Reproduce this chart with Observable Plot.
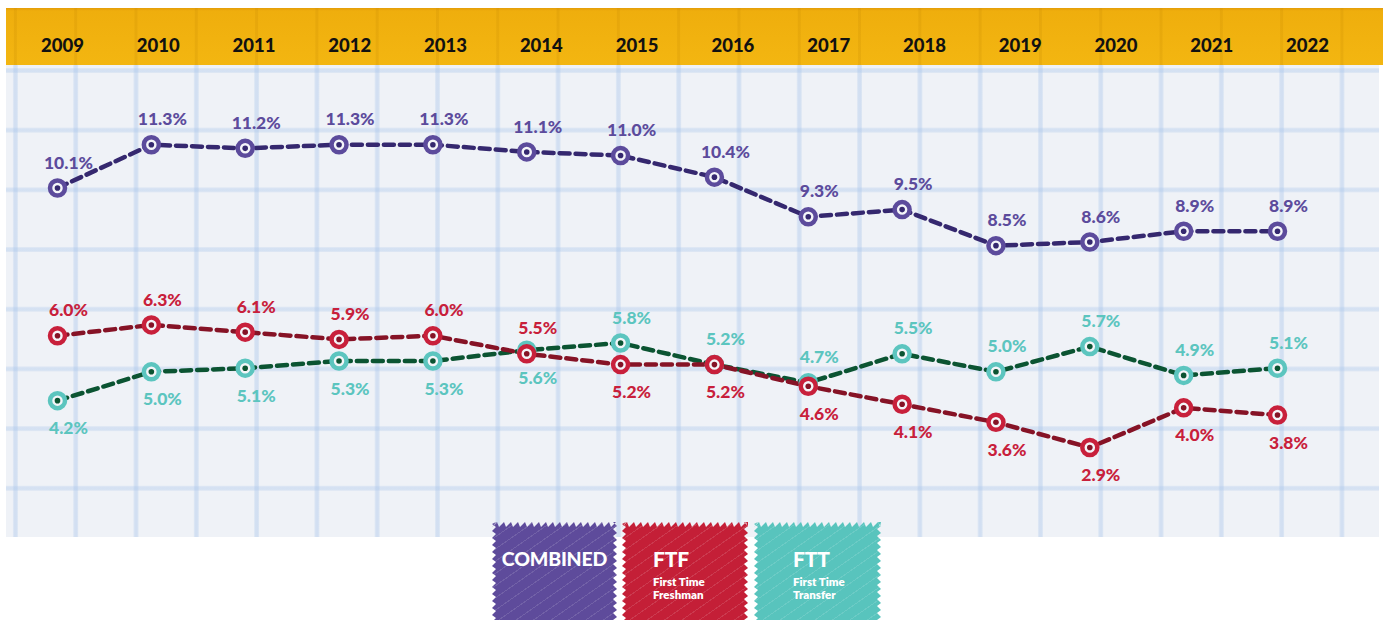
<!DOCTYPE html>
<html><head><meta charset="utf-8">
<script src="https://cdn.jsdelivr.net/npm/d3@7"></script>
<script src="https://cdn.jsdelivr.net/npm/@observablehq/plot@0.6"></script>
<style>
body{margin:0;background:#fff;}
#wrap{position:relative;width:1390px;height:620px;overflow:hidden;font-family:Lato,"Open Sans",sans-serif;}
#band{position:absolute;left:6px;top:8px;width:1377px;height:57px;
  background-image:linear-gradient(to right, transparent 0 8px, rgba(190,130,0,.18) 8px 11px, transparent 11px),
  linear-gradient(#e49d08 0,#efae0d 3px,#f3b611 100%);
  background-size:60.3px 100%, 100% 100%;}
#paper{position:absolute;left:6px;top:65px;width:1373px;height:472px;background-color:#eff2f7;
  background-image:linear-gradient(to right, transparent 0 7px, rgba(170,198,235,.22) 7px, rgba(170,198,235,.42) 8.5px 10.5px, rgba(170,198,235,.22) 12px, transparent 12px),
  linear-gradient(to bottom, transparent 0 3px, rgba(170,198,235,.2) 3px, rgba(170,198,235,.38) 4.5px 6.5px, rgba(170,198,235,.2) 8px, transparent 8px);
  background-size:60.3px 100%, 100% 59.7px;}
#header{position:absolute;left:0;top:0;}
#chart{position:absolute;left:0;top:65px;}
.lg{position:absolute;top:522px;height:100px;color:#fff;font-weight:900;
  background-image:repeating-linear-gradient(-35deg, rgba(255,255,255,0) 0 9px, rgba(255,255,255,.12) 9px 10px);}
.lg .big{position:absolute;top:26px;font-size:19px;line-height:22px;letter-spacing:-0.2px;}
.lg .small{position:absolute;top:53px;font-size:11.5px;line-height:13px;font-weight:800;}
</style></head>
<body>
<div id="wrap">
  <div id="band"></div>
  <div id="paper"></div>
  <div id="header"></div>
  <div id="chart"></div>
  <div class="lg" id="lg0" style="left:492px;width:125px;background-color:#5e4b9b;"><div class="big" style="left:0;width:125px;text-align:center;font-size:19.5px;">COMBINED</div></div>
  <div class="lg" id="lg1" style="left:622px;width:126px;background-color:#c41f37;"><div class="big" style="left:31px;font-size:21px;">FTF</div><div class="small" style="left:31px;">First Time<br>Freshman</div></div>
  <div class="lg" id="lg2" style="left:754px;width:127px;background-color:#58c4bd;"><div class="big" style="left:39px;font-size:21px;">FTT</div><div class="small" style="left:39px;">First Time<br>Transfer</div></div>
</div>
<script>
// ---- data ----
const years = [2009,2010,2011,2012,2013,2014,2015,2016,2017,2018,2019,2020,2021,2022];
const combined = [10.1,11.3,11.2,11.3,11.3,11.1,11.0,10.4,9.3,9.5,8.5,8.6,8.9,8.9];
const ftf      = [6.0,6.3,6.1,5.9,6.0,5.5,5.2,5.2,4.6,4.1,3.6,2.9,4.0,3.8];
const ftt      = [4.2,5.0,5.1,5.3,5.3,5.6,5.8,5.2,4.7,5.5,5.0,5.7,4.9,5.1];
const switchYear = 2015; // FTF labels above before this year, FTT labels below before it

const series = [
  {values: combined, ring:"#5c4b9c", line:"#35286f", above: d => true},
  {values: ftt, ring:"#5cc5bf", line:"#0b5432", above: d => d.year >= switchYear},
  {values: ftf, ring:"#c8203b", line:"#861326", above: d => d.year < switchYear}
];

const fmt = d => d.value.toFixed(1) + "%";
const marks = [];
for (const s of series) {
  const data = years.map((year, i) => ({year, value: s.values[i]}));
  marks.push(Plot.line(data, {x:"year", y:"value", stroke:s.line, strokeWidth:4.5, strokeDasharray:"10,6"}));
}
for (const s of series) {
  const data = years.map((year, i) => ({year, value: s.values[i]}));
  marks.push(Plot.dot(data, {x:"year", y:"value", r:7.5, stroke:s.ring, strokeWidth:4.5, fill:"#f4f5f9"}));
  marks.push(Plot.dot(data, {x:"year", y:"value", r:2.8, fill:s.line}));
  marks.push(Plot.text(data.filter(s.above), {x:"year", y:"value", text:fmt, dx:11, dy:-25, fill:s.ring, fontSize:17.5, fontWeight:900}));
  marks.push(Plot.text(data.filter(d => !s.above(d)), {x:"year", y:"value", text:fmt, dx:11, dy:28, fill:s.ring, fontSize:17.5, fontWeight:900}));
}

const chart = Plot.plot({
  width:1390, height:472,
  marginLeft:57, marginRight:113, marginTop:54, marginBottom:21.5,
  x:{domain:[2009,2022], axis:null},
  y:{domain:[1,12], axis:null},
  style:{background:"transparent", overflow:"visible", fontFamily:"Lato, 'Open Sans', sans-serif"},
  marks
});
document.getElementById("chart").appendChild(chart);

const header = Plot.plot({
  width:1390, height:66,
  marginLeft:62, marginRight:83, marginTop:26, marginBottom:0,
  x:{domain:[2009,2022], axis:null},
  style:{background:"transparent", overflow:"visible", fontFamily:"Lato, 'Open Sans', sans-serif"},
  marks:[Plot.text(years, {x:d => d, text:d => String(d), fontSize:18.5, fontWeight:900, fill:"#111"})]
});
document.getElementById("header").appendChild(header);

// scribbled legend edges (slanted sawtooth)
function jag(w, h) {
  const pts = [];
  for (let x = 0; x <= w; x += 7) { pts.push([x, 5]); pts.push([Math.min(x + 5, w), 0]); }
  for (let y = 0; y <= h; y += 7) { pts.push([w - 4, y]); pts.push([w, Math.min(y + 4, h)]); }
  for (let x = w; x >= 0; x -= 7) { pts.push([x, h]); }
  for (let y = h; y >= 0; y -= 7) { pts.push([0, y]); pts.push([4, Math.max(y - 4, 0)]); }
  return "polygon(" + pts.map(p => p[0] + "px " + p[1] + "px").join(",") + ")";
}
for (const id of ["lg0","lg1","lg2"]) {
  const el = document.getElementById(id);
  el.style.clipPath = jag(el.offsetWidth, el.offsetHeight);
}
</script>
</body></html>
